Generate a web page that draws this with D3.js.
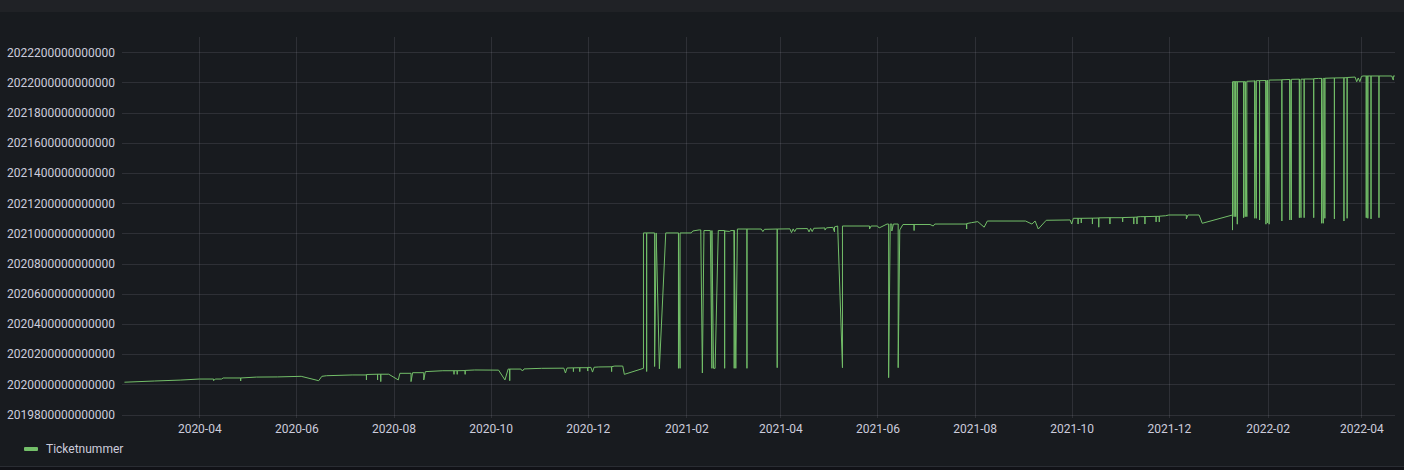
<!DOCTYPE html>
<html>
<head>
<meta charset="utf-8">
<script src="https://cdn.jsdelivr.net/npm/d3@7"></script>
<style>
  html, body { margin: 0; padding: 0; background: #111217; }
  svg { display: block; }
  text { font-family: Roboto, "Noto Sans", sans-serif; }
</style>
</head>
<body>
<svg id="chart" width="1404" height="470"></svg>
<script>
// ---------- data ----------
const seriesName = "Ticketnummer";

const yTicks = [
  2019800000000000, 2020000000000000, 2020200000000000, 2020400000000000,
  2020600000000000, 2020800000000000, 2021000000000000, 2021200000000000,
  2021400000000000, 2021600000000000, 2021800000000000, 2022000000000000,
  2022200000000000
];

const xTickLabels = [
  "2020-04", "2020-06", "2020-08", "2020-10", "2020-12",
  "2021-02", "2021-04", "2021-06", "2021-08", "2021-10", "2021-12",
  "2022-02", "2022-04"
];

const timeRange = ["2020-02-12T11:00", "2022-04-22T01:30"];

// [date, ticket number]
const ticketSeries = [
  ["2020-02-14", 2020.014e12], ["2020-03-04", 2020.022e12], ["2020-03-20", 2020.028e12],
  ["2020-04-01", 2020.035e12], ["2020-04-10", 2020.035e12], ["2020-04-10", 2020.024e12],
  ["2020-04-11", 2020.035e12], ["2020-04-15", 2020.035e12], ["2020-04-16", 2020.042e12],
  ["2020-04-27", 2020.042e12], ["2020-04-27", 2020.022e12], ["2020-04-27", 2020.042e12],
  ["2020-05-07", 2020.048e12], ["2020-05-20", 2020.049e12], ["2020-06-04", 2020.053e12],
  ["2020-06-15", 2020.024e12], ["2020-06-17", 2020.053e12], ["2020-06-20", 2020.057e12],
  ["2020-07-06", 2020.062e12], ["2020-07-15", 2020.062e12], ["2020-07-15", 2020.029e12],
  ["2020-07-15", 2020.065e12], ["2020-07-22", 2020.067e12], ["2020-07-22", 2020.029e12],
  ["2020-07-22", 2020.067e12], ["2020-07-24", 2020.067e12], ["2020-07-24", 2020.018e12],
  ["2020-07-24", 2020.067e12], ["2020-07-29", 2020.067e12], ["2020-08-04", 2020.029e12],
  ["2020-08-05", 2020.073e12], ["2020-08-12", 2020.073e12], ["2020-08-12", 2020.018e12],
  ["2020-08-13", 2020.077e12], ["2020-08-20", 2020.077e12], ["2020-08-20", 2020.029e12],
  ["2020-08-21", 2020.084e12], ["2020-09-01", 2020.090e12], ["2020-09-08", 2020.090e12],
  ["2020-09-08", 2020.066e12], ["2020-09-08", 2020.090e12], ["2020-09-10", 2020.090e12],
  ["2020-09-10", 2020.066e12], ["2020-09-10", 2020.090e12], ["2020-09-15", 2020.091e12],
  ["2020-09-15", 2020.066e12], ["2020-09-15", 2020.092e12], ["2020-09-21", 2020.095e12],
  ["2020-10-06", 2020.094e12], ["2020-10-10", 2020.029e12], ["2020-10-12", 2020.101e12],
  ["2020-10-13", 2020.101e12], ["2020-10-13", 2020.024e12], ["2020-10-13", 2020.101e12],
  ["2020-10-20", 2020.101e12], ["2020-10-21", 2020.088e12], ["2020-10-22", 2020.102e12],
  ["2020-11-02", 2020.106e12], ["2020-11-16", 2020.107e12], ["2020-11-17", 2020.075e12],
  ["2020-11-18", 2020.108e12], ["2020-11-22", 2020.109e12], ["2020-11-22", 2020.084e12],
  ["2020-11-22", 2020.109e12], ["2020-11-26", 2020.110e12], ["2020-11-26", 2020.084e12],
  ["2020-11-26", 2020.110e12], ["2020-12-01", 2020.110e12], ["2020-12-01", 2020.088e12],
  ["2020-12-01", 2020.112e12], ["2020-12-03", 2020.112e12], ["2020-12-04", 2020.081e12],
  ["2020-12-05", 2020.113e12], ["2020-12-08", 2020.115e12], ["2020-12-16", 2020.116e12],
  ["2020-12-16", 2020.084e12], ["2020-12-16", 2020.117e12], ["2020-12-18", 2020.121e12],
  ["2020-12-23", 2020.121e12], ["2020-12-24", 2020.066e12], ["2021-01-05", 2020.106e12],
  // 2021
  ["2021-01-05", 2021.003e12], ["2021-01-07", 2021.003e12], ["2021-01-07", 2020.085e12],
  ["2021-01-07", 2021.003e12], ["2021-01-12", 2021.003e12], ["2021-01-12", 2020.118e12],
  ["2021-01-13", 2021.003e12], ["2021-01-15", 2020.103e12], ["2021-01-19", 2021.003e12],
  ["2021-01-27", 2021.003e12], ["2021-01-27", 2020.106e12], ["2021-01-27", 2021.003e12],
  ["2021-01-28", 2020.106e12], ["2021-01-28", 2021.003e12], ["2021-02-04", 2021.003e12],
  ["2021-02-05", 2021.016e12], ["2021-02-09", 2021.023e12], ["2021-02-10", 2021.023e12],
  ["2021-02-11", 2020.075e12], ["2021-02-12", 2021.019e12], ["2021-02-16", 2021.019e12],
  ["2021-02-17", 2020.106e12], ["2021-02-17", 2021.019e12], ["2021-02-18", 2020.106e12],
  ["2021-02-19", 2020.106e12], ["2021-02-21", 2021.019e12], ["2021-02-25", 2021.019e12],
  ["2021-02-25", 2020.106e12], ["2021-02-25", 2021.016e12], ["2021-02-28", 2021.013e12],
  ["2021-03-01", 2021.019e12], ["2021-03-03", 2021.019e12], ["2021-03-03", 2020.106e12],
  ["2021-03-03", 2021.019e12], ["2021-03-04", 2020.106e12], ["2021-03-05", 2021.029e12],
  ["2021-03-11", 2021.029e12], ["2021-03-11", 2020.106e12], ["2021-03-11", 2021.029e12],
  ["2021-03-20", 2021.029e12], ["2021-03-21", 2021.012e12], ["2021-03-22", 2021.027e12],
  ["2021-03-30", 2021.029e12], ["2021-03-30", 2020.110e12], ["2021-03-30", 2021.029e12],
  ["2021-04-07", 2021.030e12], ["2021-04-08", 2021.005e12], ["2021-04-09", 2021.030e12],
  ["2021-04-10", 2021.012e12], ["2021-04-11", 2021.031e12], ["2021-04-18", 2021.032e12],
  ["2021-04-19", 2021.010e12], ["2021-04-20", 2021.033e12], ["2021-04-21", 2021.012e12],
  ["2021-04-22", 2021.034e12], ["2021-04-29", 2021.036e12], ["2021-04-29", 2021.022e12],
  ["2021-04-30", 2021.037e12], ["2021-05-04", 2021.040e12], ["2021-05-05", 2021.010e12],
  ["2021-05-05", 2021.043e12], ["2021-05-07", 2021.049e12], ["2021-05-10", 2020.110e12],
  ["2021-05-10", 2021.049e12], ["2021-05-27", 2021.049e12], ["2021-05-27", 2021.029e12],
  ["2021-05-28", 2021.049e12], ["2021-06-01", 2021.049e12], ["2021-06-02", 2021.036e12],
  ["2021-06-07", 2021.062e12], ["2021-06-08", 2021.062e12], ["2021-06-08", 2020.044e12],
  ["2021-06-09", 2021.062e12], ["2021-06-10", 2021.062e12], ["2021-06-10", 2021.016e12],
  ["2021-06-11", 2021.062e12], ["2021-06-14", 2021.062e12], ["2021-06-14", 2020.110e12],
  ["2021-06-15", 2021.023e12], ["2021-06-17", 2021.059e12], ["2021-06-24", 2021.059e12],
  ["2021-06-24", 2021.019e12], ["2021-06-24", 2021.059e12], ["2021-07-04", 2021.059e12],
  ["2021-07-06", 2021.049e12], ["2021-07-07", 2021.062e12], ["2021-07-27", 2021.062e12],
  ["2021-07-27", 2021.029e12], ["2021-07-27", 2021.065e12], ["2021-07-30", 2021.071e12],
  ["2021-08-03", 2021.078e12], ["2021-08-07", 2021.041e12], ["2021-08-09", 2021.082e12],
  ["2021-09-02", 2021.082e12], ["2021-09-06", 2021.062e12], ["2021-09-08", 2021.082e12],
  ["2021-09-10", 2021.029e12], ["2021-09-15", 2021.087e12], ["2021-09-30", 2021.089e12],
  ["2021-10-01", 2021.062e12], ["2021-10-02", 2021.100e12], ["2021-10-05", 2021.100e12],
  ["2021-10-05", 2021.062e12], ["2021-10-05", 2021.100e12], ["2021-10-07", 2021.100e12],
  ["2021-10-07", 2021.069e12], ["2021-10-07", 2021.100e12], ["2021-10-14", 2021.101e12],
  ["2021-10-14", 2021.062e12], ["2021-10-14", 2021.101e12], ["2021-10-18", 2021.102e12],
  ["2021-10-18", 2021.041e12], ["2021-10-18", 2021.103e12], ["2021-10-25", 2021.104e12],
  ["2021-10-25", 2021.062e12], ["2021-10-25", 2021.104e12], ["2021-11-02", 2021.104e12],
  ["2021-11-02", 2021.076e12], ["2021-11-02", 2021.105e12], ["2021-11-09", 2021.107e12],
  ["2021-11-09", 2021.062e12], ["2021-11-09", 2021.107e12], ["2021-11-11", 2021.108e12],
  ["2021-11-11", 2021.062e12], ["2021-11-11", 2021.109e12], ["2021-11-13", 2021.111e12],
  ["2021-11-16", 2021.111e12], ["2021-11-16", 2021.062e12], ["2021-11-16", 2021.111e12],
  ["2021-11-23", 2021.113e12], ["2021-11-23", 2021.076e12], ["2021-11-23", 2021.113e12],
  ["2021-11-25", 2021.113e12], ["2021-11-25", 2021.076e12], ["2021-11-25", 2021.114e12],
  ["2021-11-29", 2021.117e12], ["2021-12-01", 2021.122e12], ["2021-12-12", 2021.122e12],
  ["2021-12-12", 2021.096e12], ["2021-12-13", 2021.122e12], ["2021-12-20", 2021.122e12],
  ["2021-12-22", 2021.067e12], ["2022-01-10", 2021.122e12], ["2022-01-10", 2021.022e12],
  // 2022
  ["2022-01-10", 2022.005e12], ["2022-01-11", 2022.005e12], ["2022-01-11", 2021.111e12],
  ["2022-01-11", 2022.005e12], ["2022-01-12", 2022.005e12], ["2022-01-12", 2021.111e12],
  ["2022-01-12", 2022.005e12], ["2022-01-13", 2022.005e12], ["2022-01-13", 2021.061e12],
  ["2022-01-13", 2022.005e12], ["2022-01-17", 2022.005e12], ["2022-01-17", 2021.104e12],
  ["2022-01-17", 2022.005e12], ["2022-01-18", 2022.005e12], ["2022-01-18", 2021.111e12],
  ["2022-01-18", 2022.005e12], ["2022-01-19", 2021.111e12], ["2022-01-19", 2022.008e12],
  ["2022-01-24", 2022.010e12], ["2022-01-24", 2021.100e12], ["2022-01-24", 2022.012e12],
  ["2022-01-25", 2021.100e12], ["2022-01-25", 2022.012e12], ["2022-01-27", 2022.012e12],
  ["2022-01-27", 2021.089e12], ["2022-01-27", 2022.012e12], ["2022-01-31", 2022.013e12],
  ["2022-01-31", 2021.061e12], ["2022-01-31", 2022.014e12], ["2022-02-01", 2021.070e12],
  ["2022-02-01", 2022.015e12], ["2022-02-02", 2021.061e12], ["2022-02-02", 2022.016e12],
  ["2022-02-10", 2022.017e12], ["2022-02-10", 2021.082e12], ["2022-02-10", 2022.018e12],
  ["2022-02-15", 2022.020e12], ["2022-02-15", 2021.089e12], ["2022-02-15", 2022.020e12],
  ["2022-02-16", 2021.089e12], ["2022-02-16", 2022.021e12], ["2022-02-21", 2022.022e12],
  ["2022-02-21", 2021.104e12], ["2022-02-21", 2022.022e12], ["2022-02-22", 2021.104e12],
  ["2022-02-22", 2022.022e12], ["2022-02-24", 2022.022e12], ["2022-02-24", 2021.104e12],
  ["2022-02-24", 2022.023e12], ["2022-03-02", 2022.023e12], ["2022-03-02", 2021.104e12],
  ["2022-03-02", 2022.025e12], ["2022-03-05", 2022.027e12], ["2022-03-07", 2022.027e12],
  ["2022-03-07", 2021.067e12], ["2022-03-07", 2022.027e12], ["2022-03-08", 2021.067e12],
  ["2022-03-08", 2022.027e12], ["2022-03-09", 2022.027e12], ["2022-03-09", 2021.100e12],
  ["2022-03-09", 2022.028e12], ["2022-03-15", 2022.030e12], ["2022-03-15", 2021.096e12],
  ["2022-03-15", 2022.030e12], ["2022-03-21", 2022.031e12], ["2022-03-21", 2021.082e12],
  ["2022-03-21", 2022.031e12], ["2022-03-23", 2022.032e12], ["2022-03-23", 2021.100e12],
  ["2022-03-23", 2022.033e12], ["2022-03-28", 2022.036e12], ["2022-03-29", 2022.005e12],
  ["2022-03-30", 2022.030e12], ["2022-03-31", 2022.005e12], ["2022-04-01", 2022.040e12],
  ["2022-04-02", 2022.043e12], ["2022-04-04", 2022.043e12], ["2022-04-04", 2021.104e12],
  ["2022-04-04", 2022.043e12], ["2022-04-05", 2022.043e12], ["2022-04-05", 2021.100e12],
  ["2022-04-05", 2022.043e12], ["2022-04-07", 2022.043e12], ["2022-04-07", 2021.096e12],
  ["2022-04-07", 2022.043e12], ["2022-04-12", 2022.043e12], ["2022-04-12", 2021.104e12],
  ["2022-04-12", 2022.043e12], ["2022-04-20", 2022.043e12], ["2022-04-21", 2022.016e12],
  ["2022-04-21", 2022.043e12], ["2022-04-22", 2022.043e12]
];

// ---------- drawing ----------
const W = 1404, H = 470;
const plot = { left: 122, right: 1395, top: 37, bottom: 414.5, topTick: 52.3 };
const lineColor = "#73bf69";
const textColor = "#ccccdc";
const gridColor = "rgba(204,204,220,0.12)";

const parseDay = d3.timeParse("%Y-%m-%d");
const parseTime = d3.timeParse("%Y-%m-%dT%H:%M");
const parseMonth = d3.timeParse("%Y-%m");

const data = ticketSeries.map(([d, v]) => ({ date: parseDay(d), value: v }));

const svg = d3.select("#chart");

// panel backgrounds
svg.append("rect").attr("x", 0).attr("y", 0).attr("width", W).attr("height", H).attr("fill", "#111217");
svg.append("rect").attr("x", 0).attr("y", 0).attr("width", W).attr("height", 12).attr("fill", "#202226");
svg.append("rect").attr("x", 0).attr("y", 12).attr("width", W).attr("height", 454).attr("fill", "#181b1f");
svg.append("line").attr("x1", 0).attr("x2", W).attr("y1", 466.5).attr("y2", 466.5)
  .attr("stroke", "#2a2d33").attr("stroke-width", 1);

const x = d3.scaleTime()
  .domain(timeRange.map(parseTime))
  .range([plot.left, plot.right]);

const y = d3.scaleLinear()
  .domain([yTicks[0], yTicks[yTicks.length - 1]])
  .range([plot.bottom, plot.topTick]);

const xTicks = xTickLabels.map(parseMonth);

// vertical grid
const xGrid = svg.append("g")
  .attr("transform", `translate(0,${plot.top})`)
  .call(d3.axisBottom(x).tickValues(xTicks).tickSize(418 - plot.top).tickFormat(""));
xGrid.select(".domain").remove();
xGrid.selectAll("line").attr("stroke", gridColor).attr("shape-rendering", "crispEdges");

// horizontal grid
const yGrid = svg.append("g")
  .attr("transform", `translate(${plot.left},0)`)
  .call(d3.axisRight(y).tickValues(yTicks).tickSize(plot.right - plot.left).tickFormat(""));
yGrid.select(".domain").remove();
yGrid.selectAll("line").attr("stroke", gridColor).attr("shape-rendering", "crispEdges");

// y axis labels
const yAxis = svg.append("g")
  .attr("transform", `translate(${plot.left},0)`)
  .call(d3.axisLeft(y).tickValues(yTicks).tickSize(0).tickPadding(7).tickFormat(d3.format("d")));
yAxis.select(".domain").remove();
yAxis.selectAll("text")
  .attr("fill", textColor)
  .style("font-size", "12px")
  .style("font-family", "Roboto, sans-serif");

// x axis labels
const xAxis = svg.append("g")
  .attr("transform", `translate(0,${plot.bottom})`)
  .call(d3.axisBottom(x).tickValues(xTicks).tickSize(0).tickPadding(10).tickFormat(d3.timeFormat("%Y-%m")));
xAxis.select(".domain").remove();
xAxis.selectAll("text")
  .attr("fill", textColor)
  .style("font-size", "12px")
  .style("font-family", "Roboto, sans-serif");

// series line
const line = d3.line()
  .x(d => x(d.date))
  .y(d => y(d.value));

svg.append("path")
  .datum(data)
  .attr("d", line)
  .attr("fill", "none")
  .attr("stroke", lineColor)
  .attr("stroke-width", 1)
  .attr("stroke-linejoin", "round");

// legend
const legend = svg.append("g").attr("transform", "translate(24,449)");
legend.append("rect").attr("x", 0).attr("y", -2).attr("width", 14).attr("height", 4)
  .attr("rx", 1).attr("fill", lineColor);
legend.append("text").attr("x", 22).attr("y", 4)
  .attr("fill", textColor).style("font-size", "12px").text(seriesName);
</script>
</body>
</html>
